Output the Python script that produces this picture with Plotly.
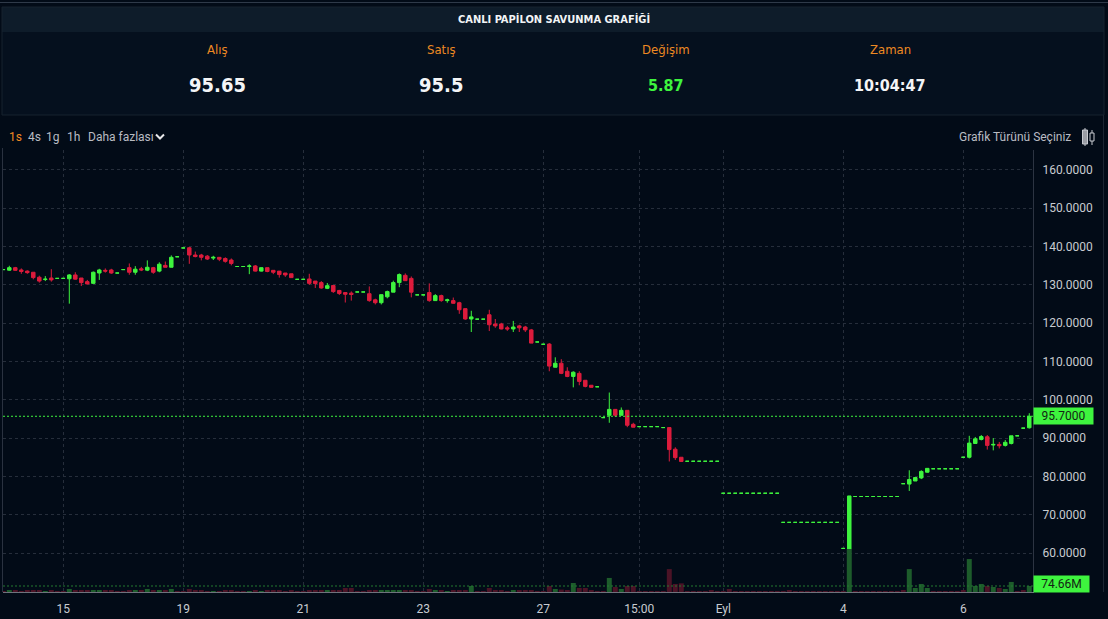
import plotly.graph_objects as go

# ---------------- data ----------------
bars = list(range(172))

opens = [
    134.0, 133.84, 134.5, 133.9, 133.6, 133.3, 132.0, 131.4, 131.8, 131.7,
    131.7, 131.6, 132.6, 131.8, 130.85, 130.4, 133.1, 133.8, 133.9, 133.1,
    134.0, 134.5, 133.3, 134.2, 133.85, 134.5, 133.6, 135.1, 134.6, 137.35,
    139.65, 139.7, 137.8, 137.8, 137.5, 137.0, 137.2, 136.9, 136.5, 134.8,
    134.8, 134.8, 134.95, 133.6, 134.5, 133.8, 133.6, 133.1, 132.9, 131.45,
    131.45, 131.55, 131.0, 130.6, 129.1, 129.85, 128.55, 128.0, 127.85, 128.15,
    128.15, 127.7, 126.1, 125.35, 126.9, 128.1, 130.6, 132.5, 131.7, 127.4,
    127.4, 128.0, 125.9, 127.2, 125.9, 125.9, 125.35, 123.8, 121.1, 121.05,
    121.05, 122.2, 119.8, 119.8, 118.8, 118.5, 119.3, 119.0, 118.25, 115.1,
    114.5, 114.55, 108.5, 109.55, 107.45, 106.1, 106.9, 105.1, 103.8, 103.4,
    95.35, 95.95, 97.5, 95.95, 97.25, 93.6, 93.0, 93.0, 93.0, 93.0,
    92.75, 92.75, 87.1, 85.0, 83.95, 83.95, 83.95, 83.95, 83.95, 83.95,
    75.6, 75.6, 75.6, 75.6, 75.6, 75.6, 75.6, 75.6, 75.6, 75.6,
    68.0, 68.0, 68.0, 68.0, 68.0, 68.0, 68.0, 68.0, 68.0, 68.0,
    61.2, 61.0, 74.75, 74.75, 74.75, 74.75, 74.75, 74.75, 74.75, 74.75,
    78.1, 78.0, 78.8, 79.6, 81.1, 82.0, 82.0, 82.0, 82.0, 82.0,
    85.0, 85.0, 88.6, 89.65, 90.35, 88.2, 88.35, 88.1, 88.6, 90.6,
    92.6, 92.7,
]

highs = [
    134.0, 135.0, 134.7, 134.3, 133.8, 133.3, 132.4, 132.3, 134.1, 131.7,
    131.7, 132.8, 133.3, 131.8, 131.3, 133.5, 134.2, 134.3, 134.2, 133.1,
    134.0, 135.6, 134.9, 134.7, 136.4, 134.7, 135.9, 136.1, 137.7, 137.35,
    139.65, 139.9, 138.7, 138.1, 137.8, 137.6, 137.2, 137.2, 136.9, 134.8,
    134.8, 135.4, 135.2, 134.5, 134.5, 133.8, 133.6, 133.1, 132.9, 131.45,
    131.45, 132.9, 131.0, 131.0, 130.5, 129.85, 128.7, 128.0, 128.3, 128.15,
    128.15, 129.6, 126.4, 127.45, 128.5, 131.1, 133.0, 133.0, 132.2, 127.4,
    127.4, 130.4, 127.6, 127.45, 126.4, 126.7, 125.6, 123.8, 123.25, 121.05,
    121.05, 123.5, 121.1, 120.1, 119.3, 120.6, 119.6, 119.3, 118.5, 115.1,
    114.5, 114.8, 111.1, 110.6, 108.5, 107.45, 107.45, 105.1, 103.8, 103.4,
    95.35, 101.9, 97.5, 98.0, 97.25, 94.0, 93.0, 93.0, 93.0, 93.0,
    92.75, 92.75, 87.6, 85.0, 83.95, 83.95, 83.95, 83.95, 83.95, 83.95,
    75.6, 75.6, 75.6, 75.6, 75.6, 75.6, 75.6, 75.6, 75.6, 75.6,
    68.0, 68.0, 68.0, 68.0, 68.0, 68.0, 68.0, 68.0, 68.0, 68.0,
    61.2, 74.9, 74.75, 74.75, 74.75, 74.75, 74.75, 74.75, 74.75, 74.75,
    78.1, 81.6, 79.7, 81.6, 82.2, 82.0, 82.0, 82.0, 82.0, 82.0,
    85.0, 90.6, 90.3, 90.8, 90.8, 90.0, 89.0, 89.5, 90.6, 90.6,
    92.6, 96.5,
]

lows = [
    134.0, 133.7, 133.7, 132.9, 132.9, 131.45, 130.6, 131.0, 130.85, 131.7,
    131.7, 125.1, 131.4, 129.7, 130.2, 130.3, 131.3, 133.2, 132.9, 133.1,
    134.0, 132.65, 132.65, 133.6, 133.6, 132.9, 133.3, 134.6, 134.6, 137.35,
    139.65, 135.5, 137.2, 136.4, 136.5, 136.5, 136.2, 135.8, 135.1, 134.8,
    134.8, 132.8, 133.5, 133.5, 133.3, 132.8, 131.9, 132.1, 131.9, 131.45,
    131.45, 130.0, 129.2, 129.0, 128.9, 127.9, 127.35, 125.4, 125.9, 128.15,
    128.15, 125.6, 124.9, 124.9, 126.5, 128.1, 129.4, 131.1, 126.75, 127.4,
    127.4, 125.6, 125.9, 125.6, 125.35, 125.1, 122.45, 120.9, 117.7, 121.05,
    121.05, 117.95, 118.8, 118.4, 118.0, 117.7, 117.7, 117.7, 114.8, 115.1,
    114.5, 107.45, 108.5, 106.7, 105.9, 103.25, 103.8, 103.25, 103.25, 103.4,
    95.35, 94.0, 95.5, 95.95, 92.85, 92.85, 93.0, 93.0, 93.0, 93.0,
    92.75, 83.9, 84.3, 83.9, 83.95, 83.95, 83.95, 83.95, 83.95, 83.95,
    75.6, 75.6, 75.6, 75.6, 75.6, 75.6, 75.6, 75.6, 75.6, 75.6,
    68.0, 68.0, 68.0, 68.0, 68.0, 68.0, 68.0, 68.0, 68.0, 68.0,
    61.2, 61.0, 74.75, 74.75, 74.75, 74.75, 74.75, 74.75, 74.75, 74.75,
    78.1, 76.2, 78.8, 79.3, 81.0, 82.0, 82.0, 82.0, 82.0, 82.0,
    85.0, 84.7, 88.6, 89.4, 87.0, 86.8, 87.3, 87.8, 88.35, 90.6,
    92.6, 92.5,
]

closes = [
    134.0, 134.5, 133.8, 133.5, 133.2, 131.9, 131.0, 131.5, 131.3, 131.7,
    131.7, 132.6, 131.5, 130.6, 130.25, 133.3, 133.9, 133.6, 133.1, 133.1,
    134.0, 133.3, 134.1, 133.9, 134.6, 133.3, 135.4, 134.6, 137.2, 137.35,
    139.65, 137.8, 137.4, 137.2, 136.75, 137.2, 136.7, 136.15, 135.6, 134.8,
    134.8, 134.95, 133.6, 134.5, 133.5, 133.3, 132.7, 132.6, 131.9, 131.45,
    131.45, 130.4, 130.35, 129.2, 129.8, 128.25, 127.75, 127.55, 127.5, 128.15,
    128.15, 125.9, 125.35, 127.45, 128.25, 130.6, 132.7, 131.1, 128.1, 127.4,
    127.4, 125.9, 127.2, 125.9, 126.1, 125.2, 123.5, 121.1, 121.65, 121.05,
    121.05, 119.6, 119.3, 118.5, 118.5, 119.0, 118.8, 118.25, 114.8, 115.1,
    114.5, 108.8, 109.55, 106.9, 106.1, 107.2, 104.8, 103.5, 103.25, 103.4,
    95.35, 97.5, 95.95, 97.25, 93.35, 92.85, 93.0, 93.0, 93.0, 93.0,
    92.75, 87.0, 84.9, 83.9, 83.95, 83.95, 83.95, 83.95, 83.95, 83.95,
    75.6, 75.6, 75.6, 75.6, 75.6, 75.6, 75.6, 75.6, 75.6, 75.6,
    68.0, 68.0, 68.0, 68.0, 68.0, 68.0, 68.0, 68.0, 68.0, 68.0,
    61.2, 74.9, 74.75, 74.75, 74.75, 74.75, 74.75, 74.75, 74.75, 74.75,
    78.1, 79.2, 79.7, 81.3, 82.1, 82.0, 82.0, 82.0, 82.0, 82.0,
    85.0, 88.7, 89.8, 90.4, 88.1, 88.35, 88.0, 88.9, 90.6, 90.6,
    92.6, 95.7,
]

volumes = [  # millions
    10, 25, 15, 12, 15, 20, 18, 12, 15, 8,
    8, 38, 20, 15, 18, 25, 25, 15, 20, 8,
    8, 20, 18, 15, 38, 20, 25, 15, 38, 8,
    8, 38, 15, 15, 12, 12, 12, 15, 18, 6,
    6, 12, 15, 12, 18, 15, 15, 12, 15, 6,
    6, 25, 18, 20, 15, 25, 20, 50, 50, 6,
    6, 20, 20, 25, 25, 25, 25, 20, 25, 6,
    6, 38, 15, 15, 12, 15, 20, 25, 75, 6,
    6, 50, 20, 20, 12, 25, 15, 20, 25, 6,
    6, 75, 38, 30, 25, 112, 50, 50, 20, 6,
    6, 175, 62, 38, 75, 75, 6, 6, 6, 6,
    6, 285, 100, 108, 6, 6, 6, 6, 25, 6,
    6, 38, 6, 6, 6, 6, 6, 6, 6, 6,
    6, 25, 6, 6, 6, 6, 6, 6, 6, 6,
    6, 535, 6, 6, 6, 6, 6, 6, 6, 6,
    25, 285, 50, 100, 50, 6, 6, 6, 6, 6,
    25, 410, 75, 100, 75, 62, 50, 38, 125, 12,
    25, 74.66,
]

tick_bars = [10, 30, 50, 70, 90, 106, 120, 140, 160]
tick_labels = ["15", "19", "21", "23", "27", "15:00", "Eyl", "4", "6"]
price_ticks = [60, 70, 80, 90, 100, 110, 120, 130, 140, 150, 160]

title_text = "CANLI PAPİLON SAVUNMA GRAFİĞİ"
header_labels = ["Alış", "Satış", "Değişim", "Zaman"]
header_values = ["95.65", "95.5", "5.87", "10:04:47"]
interval_buttons = ["1s", "4s", "1g", "1h", "Daha fazlası"]
chart_type_text = "Grafik Türünü Seçiniz"

# ---------------- style ----------------
W, H = 1108, 619
ML, MR, MT, MB = 3, 75, 150, 27
PL, PR, PT, PB = ML, W - MR, MT, H - MB

BG = "#020b17"
GREEN = "#3ef43e"
RED = "#dc1c3c"
VOL_GREEN = "#1d5c2b"
VOL_RED = "#4b1326"
GRID = "#262e3b"
TXT = "#c8cbd1"
ORANGE = "#ee8a23"
FONT = "Roboto, 'Open Sans', sans-serif"
CFONT = "'Liberation Sans Narrow', 'DejaVu Sans Condensed', Roboto, sans-serif"


def PX(px):
    return (px - PL) / (PR - PL)


def PY(py):
    return (PB - py) / (PB - PT)


up_idx = [i for i in bars if closes[i] >= opens[i]]
dn_idx = [i for i in bars if closes[i] < opens[i]]


def candle(idx, color):
    return go.Candlestick(
        x=[bars[i] for i in idx],
        open=[opens[i] for i in idx],
        high=[highs[i] for i in idx],
        low=[lows[i] for i in idx],
        close=[closes[i] for i in idx],
        increasing=dict(line=dict(color=color, width=1), fillcolor=color),
        decreasing=dict(line=dict(color=color, width=1), fillcolor=color),
        whiskerwidth=0,
        showlegend=False,
        hoverinfo="skip",
        yaxis="y",
    )


vol_colors = [VOL_GREEN if closes[i] > opens[i] else VOL_RED for i in bars]

fig = go.Figure()
fig.add_trace(go.Bar(x=bars, y=volumes, marker=dict(color=vol_colors, line=dict(width=0)),
                     yaxis="y2", showlegend=False, hoverinfo="skip"))
fig.add_trace(candle(up_idx, GREEN))
fig.add_trace(candle(dn_idx, RED))

shapes = []
annotations = []

# header panel backgrounds
shapes.append(dict(type="line", xref="paper", yref="paper", x0=PX(0), x1=PX(W), y0=PY(2.5), y1=PY(2.5),
                   line=dict(color="#2f3a49", width=1), layer="below"))
shapes.append(dict(type="rect", xref="paper", yref="paper", x0=PX(2), x1=PX(1104), y0=PY(32), y1=PY(7),
                   fillcolor="#0e1c2a", line=dict(width=0), layer="below"))
shapes.append(dict(type="rect", xref="paper", yref="paper", x0=PX(2), x1=PX(1104), y0=PY(115), y1=PY(32),
                   fillcolor="#05101e", line=dict(width=0), layer="below"))
shapes.append(dict(type="rect", xref="paper", yref="paper", x0=PX(2), x1=PX(1104), y0=PY(115), y1=PY(7),
                   fillcolor="rgba(0,0,0,0)", line=dict(color="#16222f", width=1), layer="below"))
# side borders of chart panel
shapes.append(dict(type="line", xref="paper", yref="paper", x0=PX(2.5), x1=PX(2.5), y0=PY(PB), y1=PY(148),
                   line=dict(color="#2a3240", width=1), layer="below"))
shapes.append(dict(type="line", xref="paper", yref="paper", x0=PX(1103.5), x1=PX(1103.5), y0=PY(PB), y1=PY(115),
                   line=dict(color="#1c2532", width=1), layer="below"))

# last price and last volume lines
shapes.append(dict(type="line", xref="paper", yref="y", x0=0, x1=1, y0=closes[-1], y1=closes[-1],
                   line=dict(color=GREEN, width=1, dash="2px,2px")))
shapes.append(dict(type="line", xref="paper", yref="y2", x0=0, x1=1, y0=volumes[-1], y1=volumes[-1],
                   line=dict(color="#237a30", width=1, dash="2px,2px")))

annotations.append(dict(xref="paper", yref="y", x=1, y=closes[-1], xanchor="left", yanchor="middle",
                        text=f"{closes[-1]:.4f}", showarrow=False, bgcolor=GREEN, width=55, height=12,
                        borderpad=2, align="center", font=dict(family=FONT, size=12, color="#142414")))
annotations.append(dict(xref="paper", yref="y2", x=1, y=volumes[-1], xanchor="left", yanchor="middle",
                        yshift=2, text=f"{volumes[-1]:.2f}M", showarrow=False, bgcolor=GREEN, width=51,
                        height=12, borderpad=2, align="center", font=dict(family=FONT, size=12, color="#142414")))

# header texts
annotations.append(dict(xref="paper", yref="paper", x=PX(554), y=PY(19.5), text=f"<b>{title_text}</b>",
                        showarrow=False, xanchor="center", yanchor="middle",
                        font=dict(family=CFONT, size=11, color="#f2f4f6")))
label_x = [217, 441, 666, 890]
value_sizes = [20, 20, 16, 16]
value_colors = ["#f4f5f7", "#f4f5f7", GREEN, "#f4f5f7"]
for lx, lab, val, vs, vc in zip(label_x, header_labels, header_values, value_sizes, value_colors):
    annotations.append(dict(xref="paper", yref="paper", x=PX(lx), y=PY(49.5), text=lab, showarrow=False,
                            xanchor="center", yanchor="middle", font=dict(family=CFONT, size=13, color=ORANGE)))
    annotations.append(dict(xref="paper", yref="paper", x=PX(lx), y=PY(85), text=f"<b>{val}</b>",
                            showarrow=False, xanchor="center", yanchor="middle",
                            font=dict(family=CFONT, size=vs, color=vc)))

# toolbar
btn_x = [7, 26, 44, 65, 86]
for bx, b in zip(btn_x, interval_buttons):
    annotations.append(dict(xref="paper", yref="paper", x=PX(bx), y=PY(137), text=b, showarrow=False,
                            xanchor="left", yanchor="middle",
                            font=dict(family=FONT, size=12, color=ORANGE if b == "1s" else "#b9bcc3")))
shapes.append(dict(type="path", xref="paper", yref="paper",
                   path=f"M {PX(156)},{PY(134.5)} L {PX(160)},{PY(138.5)} L {PX(164)},{PY(134.5)}",
                   line=dict(color="#e8e8ea", width=2)))
annotations.append(dict(xref="paper", yref="paper", x=PX(1073), y=PY(137), text=chart_type_text,
                        showarrow=False, xanchor="right", yanchor="middle",
                        font=dict(family=FONT, size=12, color="#b9bcc3")))
# candle icon
shapes.append(dict(type="line", xref="paper", yref="paper", x0=PX(1085), x1=PX(1085), y0=PY(146), y1=PY(128),
                   line=dict(color="#c8cbd1", width=1)))
shapes.append(dict(type="rect", xref="paper", yref="paper", x0=PX(1082.5), x1=PX(1087.5), y0=PY(144), y1=PY(130),
                   fillcolor="#9a9da4", line=dict(color="#c8cbd1", width=1)))
shapes.append(dict(type="line", xref="paper", yref="paper", x0=PX(1092), x1=PX(1092), y0=PY(145), y1=PY(130),
                   line=dict(color="#c8cbd1", width=1)))
shapes.append(dict(type="rect", xref="paper", yref="paper", x0=PX(1090), x1=PX(1094), y0=PY(141), y1=PY(133),
                   fillcolor=BG, line=dict(color="#c8cbd1", width=1)))

fig.update_layout(
    width=W, height=H,
    margin=dict(l=ML, r=MR, t=MT, b=MB, pad=0),
    paper_bgcolor=BG, plot_bgcolor=BG,
    showlegend=False,
    boxgap=0.17, bargap=0.17,
    hovermode=False,
    font=dict(family=FONT, size=12, color=TXT),
    xaxis=dict(
        range=[-0.05, 171.62], rangeslider=dict(visible=False),
        tickmode="array", tickvals=tick_bars, ticktext=tick_labels,
        showgrid=True, gridcolor=GRID, griddash="3px,3px", gridwidth=1,
        showline=True, linecolor="#6e737d", linewidth=1,
        ticks="outside", ticklen=6, tickcolor="rgba(0,0,0,0)",
        tickfont=dict(family=FONT, size=12, color=TXT), zeroline=False, fixedrange=True,
    ),
    yaxis=dict(
        range=[49.82, 165.22], side="right", tickmode="array", tickvals=price_ticks,
        tickformat=".4f", showgrid=True, gridcolor=GRID, griddash="3px,3px", gridwidth=1,
        showline=True, linecolor="#2c3442", linewidth=1,
        ticks="outside", ticklen=6, tickcolor="rgba(0,0,0,0)",
        tickfont=dict(family=FONT, size=12, color=TXT), zeroline=False, fixedrange=True,
    ),
    yaxis2=dict(range=[0, 5500], overlaying="y", visible=False, fixedrange=True),
    shapes=shapes,
    annotations=annotations,
)

fig.write_html(
    "out.html",
    config={"displayModeBar": False},
    post_script="document.body.style.margin='0';document.body.style.padding='0';"
                "document.body.style.background='%s';" % BG,
)
